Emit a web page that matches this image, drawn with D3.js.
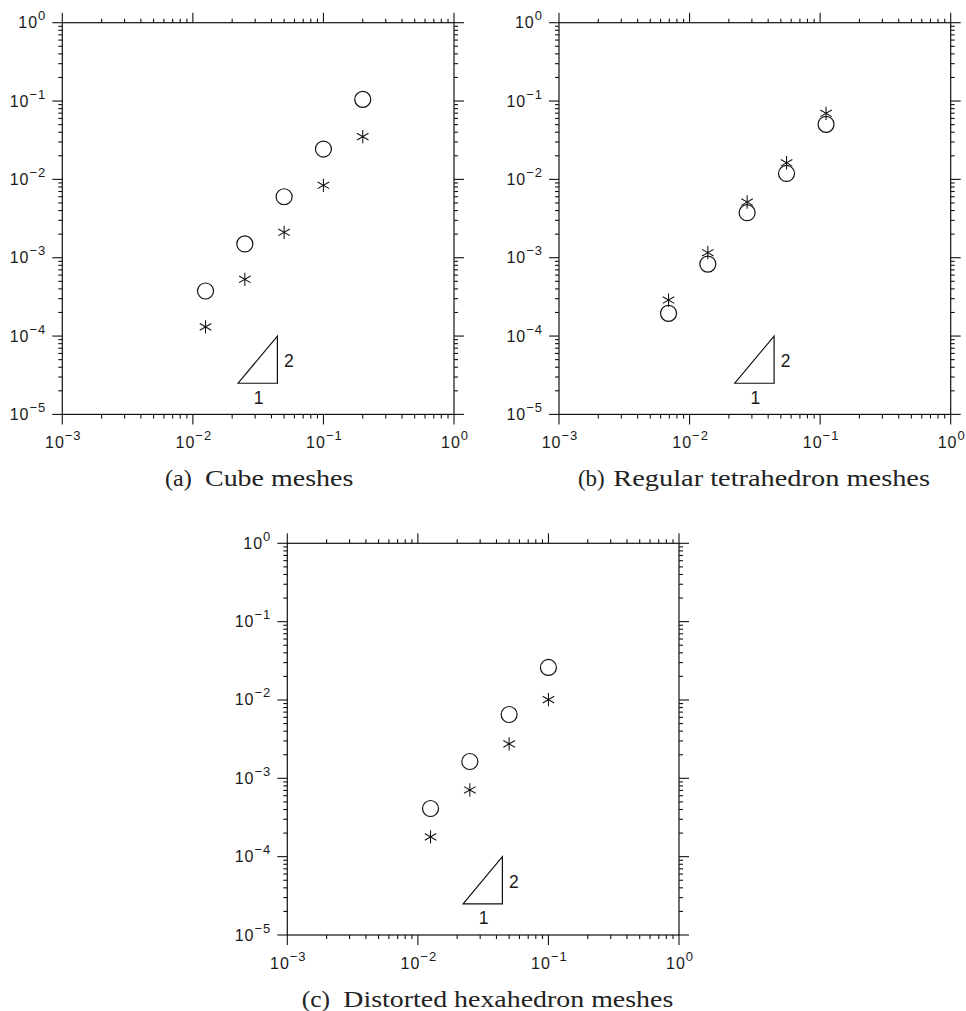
<!DOCTYPE html>
<html><head><meta charset="utf-8">
<script src="https://cdn.jsdelivr.net/npm/d3@7"></script>
<style>body{margin:0;background:#fff}svg{display:block}</style>
</head><body>
<svg id="chart" width="966" height="1011"></svg>
<script>
// ---------- data ----------
const xDomain = [1e-3, 1];
const yDomain = [1e-5, 1];
const xTickExps = [-3, -2, -1, 0];
const yTickExps = [-5, -4, -3, -2, -1, 0];
const minorMult = [2, 3, 4, 5, 6, 7, 8, 9];

const cubeH      = [0.0125, 0.025, 0.05, 0.1, 0.2];
const cubeCircle = [3.76e-4, 1.50e-3, 6.0e-3, 2.44e-2, 1.05e-1];
const cubeStar   = [1.31e-4, 5.3e-4, 2.11e-3, 8.4e-3, 3.51e-2];

const tetH       = [0.0069, 0.0138, 0.0276, 0.0553, 0.111];
const tetCircle  = [1.95e-4, 8.3e-4, 3.76e-3, 1.19e-2, 5.04e-2];
const tetStar    = [2.88e-4, 1.16e-3, 5.14e-3, 1.63e-2, 6.97e-2];

const distH      = [0.0125, 0.025, 0.05, 0.1];
const distCircle = [4.12e-4, 1.64e-3, 6.53e-3, 2.6e-2];
const distStar   = [1.79e-4, 7.1e-4, 2.75e-3, 1.01e-2];

const triangleX = [0.0222, 0.0444];
const triangleY = [2.5e-5, 1e-4];
const slopeLabels = ["1", "2"];

const captionLabels = ["(a)", "(b)", "(c)"];
const captionTitles = ["Cube meshes", "Regular tetrahedron meshes", "Distorted hexahedron meshes"];

// ---------- layout ----------
const SIZE = 391.7;
const panels = [
  {x: 62.3,  y: 22.7,  h: cubeH, c: cubeCircle, s: cubeStar,
   cap: {lx: 165, lw: 26.7, tx: 205, tw: 148.3}},
  {x: 559,   y: 22.7,  h: tetH,  c: tetCircle,  s: tetStar,
   cap: {lx: 578, lw: 26.7, tx: 613.3, tw: 316.7}},
  {x: 287.3, y: 543.3, h: distH, c: distCircle, s: distStar,
   cap: {lx: 301.7, lw: 28.3, tx: 343.3, tw: 330}}
];

const svg = d3.select("#chart");
const INK = "#111";
const TXT = "#1a1a1a";
const MAJ = 10, MIN = 4;
const sans = "'Liberation Sans', Arial, Helvetica, sans-serif";
const serif = "'Liberation Serif', 'Times New Roman', serif";

panels.forEach((p, i) => {
  const x = d3.scaleLog().domain(xDomain).range([p.x, p.x + SIZE]);
  const y = d3.scaleLog().domain(yDomain).range([p.y + SIZE, p.y]);
  const g = svg.append("g");
  const x0 = p.x, x1 = p.x + SIZE, y0 = p.y, y1 = p.y + SIZE;

  g.append("rect").attr("x", x0).attr("y", y0).attr("width", SIZE).attr("height", SIZE)
    .attr("fill", "none").attr("stroke", INK).attr("stroke-width", 1.2);

  const xMajor = xTickExps.map(e => Math.pow(10, e));
  const yMajor = yTickExps.map(e => Math.pow(10, e));
  const xMinor = [];
  xTickExps.slice(0, -1).forEach(e => minorMult.forEach(m => xMinor.push(m * Math.pow(10, e))));
  const yMinor = [];
  yTickExps.slice(0, -1).forEach(e => minorMult.forEach(m => yMinor.push(m * Math.pow(10, e))));

  const ticks = g.append("g").attr("stroke", INK).attr("stroke-width", 1.1);
  [[xMajor, MAJ], [xMinor, MIN]].forEach(([vals, len]) => {
    vals.forEach(v => {
      const xx = x(v);
      ticks.append("line").attr("x1", xx).attr("x2", xx).attr("y1", y1).attr("y2", y1 + len);
      ticks.append("line").attr("x1", xx).attr("x2", xx).attr("y1", y0).attr("y2", y0 - len);
    });
  });
  [[yMajor, MAJ], [yMinor, MIN]].forEach(([vals, len]) => {
    vals.forEach(v => {
      const yy = y(v);
      ticks.append("line").attr("y1", yy).attr("y2", yy).attr("x1", x0).attr("x2", x0 - len);
      ticks.append("line").attr("y1", yy).attr("y2", yy).attr("x1", x1).attr("x2", x1 + len);
    });
  });

  xTickExps.forEach(e => {
    const t = g.append("text").attr("x", x(Math.pow(10, e)) + 1).attr("y", y1 + 34)
      .attr("text-anchor", "middle").attr("font-family", sans).attr("font-size", 16)
      .attr("fill", TXT).attr("letter-spacing", 1);
    t.append("tspan").text("10");
    t.append("tspan").attr("dy", -8.5).attr("font-size", 13).text(e === 0 ? "0" : "\u2212" + Math.abs(e));
  });
  yTickExps.forEach(e => {
    const t = g.append("text").attr("x", x0 - 16).attr("y", y(Math.pow(10, e)) + 5.5)
      .attr("text-anchor", "end").attr("font-family", sans).attr("font-size", 16)
      .attr("fill", TXT).attr("letter-spacing", 1);
    t.append("tspan").text("10");
    t.append("tspan").attr("dy", -8).attr("font-size", 13).text(e === 0 ? "0" : "\u2212" + Math.abs(e));
  });

  g.append("g").selectAll("circle").data(p.h.map((h, k) => [h, p.c[k]])).join("circle")
    .attr("cx", d => x(d[0])).attr("cy", d => y(d[1])).attr("r", 8)
    .attr("fill", "none").attr("stroke", INK).attr("stroke-width", 1.2);
  const star = d3.symbol().type(d3.symbolAsterisk).size(125);
  g.append("g").selectAll("path").data(p.h.map((h, k) => [h, p.s[k]])).join("path")
    .attr("transform", d => `translate(${x(d[0])},${y(d[1])})`).attr("d", star)
    .attr("fill", "none").attr("stroke", INK).attr("stroke-width", 1.05);

  const tri = [[triangleX[0], triangleY[0]], [triangleX[1], triangleY[0]], [triangleX[1], triangleY[1]]];
  g.append("path").attr("d", d3.line().x(d => x(d[0])).y(d => y(d[1]))(tri) + "Z")
    .attr("fill", "none").attr("stroke", INK).attr("stroke-width", 1.2);
  g.append("text").attr("x", (x(triangleX[0]) + x(triangleX[1])) / 2 + 1).attr("y", y(triangleY[0]) + 20.5)
    .attr("text-anchor", "middle").attr("font-family", sans).attr("font-size", 17.5).attr("fill", TXT)
    .text(slopeLabels[0]);
  g.append("text").attr("x", x(triangleX[1]) + 11.5).attr("y", (y(triangleY[0]) + y(triangleY[1])) / 2 + 7.5)
    .attr("text-anchor", "middle").attr("font-family", sans).attr("font-size", 17.5).attr("fill", TXT)
    .text(slopeLabels[1]);

  const cy = y1 + 72;
  g.append("text").attr("x", p.cap.lx).attr("y", cy).attr("font-family", serif).attr("font-size", 23.5)
    .attr("fill", "#222").attr("textLength", p.cap.lw).attr("lengthAdjust", "spacingAndGlyphs")
    .text(captionLabels[i]);
  g.append("text").attr("x", p.cap.tx).attr("y", cy).attr("font-family", serif).attr("font-size", 23.5)
    .attr("fill", "#222").attr("textLength", p.cap.tw).attr("lengthAdjust", "spacingAndGlyphs")
    .text(captionTitles[i]);
});
</script>
</body></html>
